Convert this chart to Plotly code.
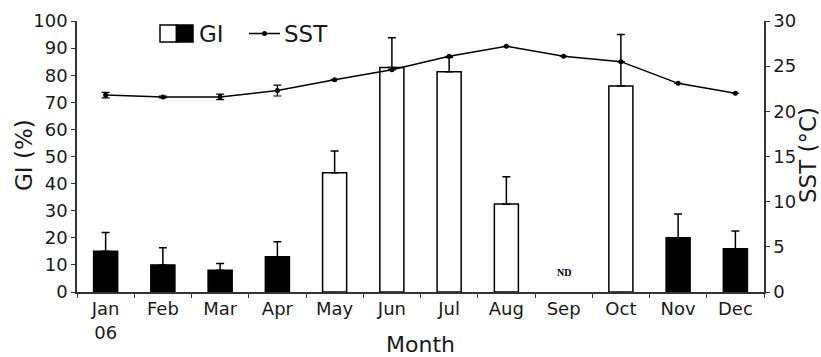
import plotly.graph_objects as go

months = ["Jan<br>06", "Feb", "Mar", "Apr", "May", "Jun", "Jul", "Aug", "Sep", "Oct", "Nov", "Dec"]
gi = [15, 10, 8, 13, 44, 82.8, 81.3, 32.5, None, 76, 20, 16]
gi_err = [7, 6.3, 2.5, 5.5, 8, 11, 5.2, 10, 0, 19, 8.8, 6.5]
gi_colors = ["black", "black", "black", "black", "white", "white", "white", "white", "white", "white", "black", "black"]
sst = [21.8, 21.6, 21.6, 22.3, 23.5, 24.6, 26.1, 27.2, 26.1, 25.5, 23.1, 22.0]
sst_err = [0.3, 0.1, 0.3, 0.6, 0, 0, 0, 0, 0, 0, 0, 0]
nd_label = "ND"
nd_month = "Sep"
nd_y = 7.2

FONT = "DejaVu Sans"
TXT = "#1a1a1a"

fig = go.Figure()
fig.add_trace(go.Bar(
    x=months, y=gi, width=0.42,
    marker=dict(color=gi_colors, line=dict(color="black", width=1.5)),
    error_y=dict(type="data", array=gi_err, arrayminus=[0] * len(gi_err), symmetric=False,
                 color="black", thickness=1.5, width=4),
    showlegend=False,
))
fig.add_trace(go.Scatter(
    x=months, y=sst, yaxis="y2", mode="lines+markers",
    line=dict(color="black", width=1.5),
    marker=dict(color="black", size=5),
    error_y=dict(type="data", array=sst_err, color="black", thickness=1.2, width=4),
    showlegend=False,
))

fig.add_annotation(x=nd_month, y=nd_y, text="<b>" + nd_label + "</b>", showarrow=False,
                   font=dict(family="Liberation Serif", size=10, color="black"))

# manual legend and titles (paper coordinates)
W, H = 821, 357
L, R, T, B = 77, 57, 21, 65
pw, ph = W - L - R, H - T - B
def px(x):
    return (x - L) / pw
def py(y):
    return (H - B - y) / ph

fig.add_shape(type="rect", xref="paper", yref="paper", x0=px(160), x1=px(176.5), y0=py(42), y1=py(25),
              fillcolor="white", line=dict(color="black", width=1.5))
fig.add_shape(type="rect", xref="paper", yref="paper", x0=px(176.5), x1=px(193), y0=py(42), y1=py(25),
              fillcolor="black", line=dict(color="black", width=1.5))
fig.add_shape(type="line", xref="paper", yref="paper", x0=px(249), x1=px(280), y0=py(33.5), y1=py(33.5),
              line=dict(color="black", width=1.5))
fig.add_shape(type="circle", xref="paper", yref="paper", x0=px(262), x1=px(267), y0=py(36), y1=py(31),
              fillcolor="black", line=dict(color="black", width=0))
fig.add_annotation(xref="paper", yref="paper", x=px(197), y=py(34), text="GI", showarrow=False,
                   xanchor="left", yanchor="middle", font=dict(family=FONT, size=23, color=TXT))
fig.add_annotation(xref="paper", yref="paper", x=px(282), y=py(34), text="SST", showarrow=False,
                   xanchor="left", yanchor="middle", font=dict(family=FONT, size=23, color=TXT))
fig.add_annotation(xref="paper", yref="paper", x=px(24), y=py(155), text="GI (%)", showarrow=False,
                   textangle=-90, xanchor="center", yanchor="middle",
                   font=dict(family=FONT, size=23, color=TXT))
fig.add_annotation(xref="paper", yref="paper", x=px(808), y=py(155), text="SST (°C)", showarrow=False,
                   textangle=-90, xanchor="center", yanchor="middle",
                   font=dict(family=FONT, size=23, color=TXT))

axis_common = dict(showline=True, linecolor="#333", linewidth=1.5, ticks="outside", ticklen=4,
                   tickwidth=1.2, tickcolor="#333", showgrid=False, zeroline=False,
                   tickfont=dict(family=FONT, size=18, color=TXT))

fig.update_layout(
    width=W, height=H,
    margin=dict(l=L, r=R, t=T, b=B, autoexpand=False),
    plot_bgcolor="white", paper_bgcolor="white",
    xaxis=dict(type="category", tickson="boundaries", range=[-0.5, 11.5],
               title=dict(text="Month", font=dict(family=FONT, size=22, color=TXT), standoff=6),
               **axis_common),
    yaxis=dict(range=[0, 100], dtick=10, **axis_common),
    yaxis2=dict(range=[0, 30], dtick=5, overlaying="y", side="right", **axis_common),
    bargap=0.58,
)

fig.write_html("out.html")
